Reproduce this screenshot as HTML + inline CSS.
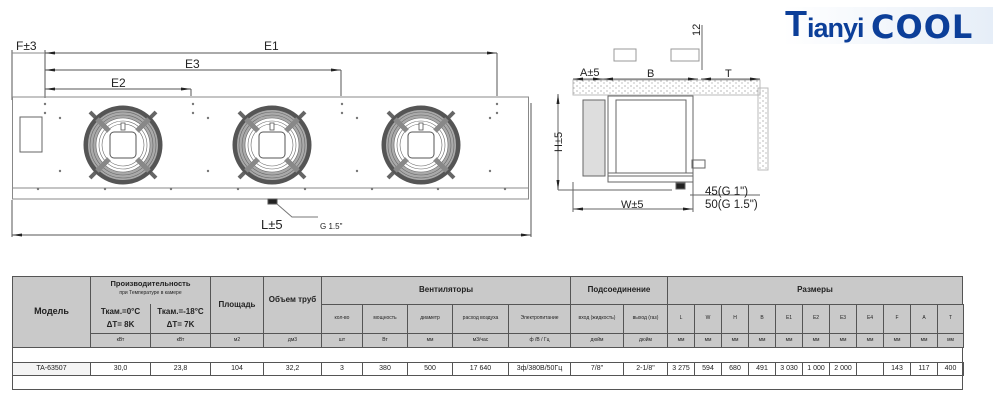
<!DOCTYPE html>
<html><head><meta charset="utf-8"><style>
body{margin:0;background:#fff;width:1000px;height:404px;overflow:hidden;position:relative;font-family:"Liberation Sans",sans-serif}
.c{position:absolute;box-sizing:border-box;border:1px solid #555;display:flex;align-items:center;justify-content:center;text-align:center;color:#222;line-height:1.1}
.h{background:#c9c9c9}
.b{font-weight:bold}
.logo{position:absolute;left:783px;top:7px;width:210px;height:37px;background:linear-gradient(90deg,#fff,#e6eef8);}
</style></head><body>
<svg width="1000" height="270" style="position:absolute;left:0;top:0" font-family="Liberation Sans, sans-serif">
<defs><marker id="a" markerWidth="10" markerHeight="6" refX="10" refY="3" orient="auto-start-reverse"><path d="M0,1.5L10,3L0,4.5z" fill="#222"/></marker>
<pattern id="dots" width="6" height="5" patternUnits="userSpaceOnUse"><circle cx="1" cy="1" r=".6" fill="#888"/><circle cx="4" cy="3" r=".6" fill="#999"/></pattern>
<g id="fan" fill="none" stroke="#666">
<path d="M-27,-27l-6,-6M27,-27l6,-6M-27,27l-6,6M27,27l6,6" stroke-width="4"/>
<circle r="37" stroke-width="5" stroke="#555"/>
<circle r="31" stroke-width="8" stroke="#aaa"/>
<circle r="33" stroke-width=".6"/><circle r="30" stroke-width=".6"/><circle r="27" stroke-width=".6"/><circle r="24" stroke-width=".6"/><circle r="21" stroke-width=".6"/>
<path d="M-14,-14L-26,-26M14,-14L26,-26M-14,14L-26,26M14,14L26,26" stroke-width="5" stroke="#888"/>
<rect x="-13" y="-13" width="26" height="26" rx="4" fill="#fff" stroke="#555"/>
<rect x="-2" y="-22" width="4" height="7" fill="#fff" stroke="#555" stroke-width=".8"/>
</g></defs>
<g stroke="#555" stroke-width="1" fill="none">
<line x1="12" y1="50" x2="12" y2="100"/>
<line x1="45" y1="50" x2="45" y2="98"/>
<line x1="12" y1="53" x2="45" y2="53" stroke="#888"/>
<line x1="45" y1="53" x2="497" y2="53" marker-end="url(#a)" marker-start="url(#a)"/>
<line x1="497" y1="53" x2="497" y2="96"/>
<line x1="45" y1="70" x2="341" y2="70" marker-end="url(#a)" marker-start="url(#a)"/>
<line x1="341" y1="70" x2="341" y2="96"/>
<line x1="45" y1="89" x2="191" y2="89" marker-end="url(#a)" marker-start="url(#a)"/>
<line x1="191" y1="89" x2="191" y2="96"/>
<line x1="12" y1="200" x2="12" y2="237"/>
<line x1="531" y1="103" x2="531" y2="237"/>
<line x1="12" y1="235" x2="531" y2="235" marker-end="url(#a)" marker-start="url(#a)"/>
<rect x="12.5" y="97" width="516" height="102" stroke="#888"/>
<line x1="12.5" y1="188" x2="528" y2="188" stroke="#888"/>
<rect x="20" y="117" width="22" height="35" stroke="#666"/>
<rect x="268" y="199" width="9" height="5" fill="#222"/>
<polyline points="277,204 292,217 318,217" stroke="#777"/>
</g>
<g fill="#777">
<circle cx="45" cy="104" r="1.2"/><circle cx="45" cy="113" r="1.2"/><circle cx="193" cy="104" r="1.2"/><circle cx="193" cy="113" r="1.2"/><circle cx="342" cy="104" r="1.2"/><circle cx="342" cy="113" r="1.2"/><circle cx="497" cy="104" r="1.2"/><circle cx="497" cy="113" r="1.2"/>
<circle cx="60" cy="118" r="1.2"/><circle cx="60" cy="171" r="1.2"/><circle cx="208" cy="118" r="1.2"/><circle cx="208" cy="171" r="1.2"/><circle cx="357" cy="118" r="1.2"/><circle cx="357" cy="171" r="1.2"/><circle cx="490" cy="118" r="1.2"/><circle cx="490" cy="171" r="1.2"/>
<circle cx="38" cy="189" r="1.2"/><circle cx="105" cy="189" r="1.2"/><circle cx="171" cy="189" r="1.2"/><circle cx="238" cy="189" r="1.2"/><circle cx="305" cy="189" r="1.2"/><circle cx="372" cy="189" r="1.2"/><circle cx="438" cy="189" r="1.2"/><circle cx="505" cy="189" r="1.2"/>
</g>
<use href="#fan" x="123" y="145"/><use href="#fan" x="272" y="145"/><use href="#fan" x="421" y="145"/>
<g fill="#222" font-size="12">
<text x="16" y="50">F±3</text><text x="264" y="50">E1</text><text x="185" y="68">E3</text><text x="111" y="87">E2</text><text x="261" y="229" font-size="13">L±5</text><text x="320" y="229" font-size="8">G 1.5"</text>
</g>
<g stroke="#666" fill="none">
<rect x="573" y="80" width="187" height="15" fill="url(#dots)" stroke="#bbb"/>
<rect x="758" y="88" width="10" height="82" fill="url(#dots)" stroke="#bbb"/>
<line x1="573" y1="79" x2="603" y2="79" marker-end="url(#a)" marker-start="url(#a)"/>
<line x1="603" y1="79" x2="698" y2="79" marker-end="url(#a)" marker-start="url(#a)"/>
<line x1="701" y1="79" x2="760" y2="79" marker-end="url(#a)" marker-start="url(#a)"/>
<line x1="702" y1="25" x2="702" y2="70"/>
<rect x="614" y="49" width="22" height="12" stroke="#999"/><rect x="671" y="49" width="28" height="12" stroke="#999"/>
<rect x="583" y="100" width="22" height="76" fill="#ddd"/>
<rect x="608" y="96" width="85" height="80"/>
<rect x="616" y="100" width="70" height="73"/>
<rect x="608" y="173" width="85" height="9"/>
<rect x="692" y="160" width="13" height="8"/>
<rect x="676" y="183" width="9" height="6" fill="#222"/>
<line x1="558" y1="94" x2="558" y2="190" marker-end="url(#a)" marker-start="url(#a)"/>
<line x1="558" y1="190" x2="672" y2="190"/>
<line x1="690" y1="195" x2="760" y2="195"/>
<line x1="573" y1="182" x2="573" y2="212"/><line x1="693" y1="182" x2="693" y2="212"/>
<line x1="573" y1="209" x2="693" y2="209" marker-end="url(#a)" marker-start="url(#a)"/>
</g>
<g fill="#222" font-size="11">
<text x="580" y="76">A±5</text><text x="647" y="77">B</text><text x="725" y="77">T</text>
<text x="0" y="0" transform="translate(700,36) rotate(-90)">12</text>
<text x="0" y="0" transform="translate(562,152) rotate(-90)">H±5</text>
<text x="705" y="195" font-size="11.5">45(G 1")</text><text x="705" y="208" font-size="11.5">50(G 1.5")</text>
<text x="621" y="208">W±5</text>
</g>
</svg>
<div class="logo"><span style="position:absolute;left:2px;top:-4px;font:bold 36px 'Liberation Sans',sans-serif;color:#0c3f99;letter-spacing:-1px">T</span><span style="position:absolute;left:24px;top:6px;font:bold 27px 'Liberation Sans',sans-serif;color:#0c3f99;letter-spacing:-1px">ianyi</span><span style="position:absolute;left:88px;top:1px;font:bold 32px 'DejaVu Sans',sans-serif;color:#0c3f99;letter-spacing:1px">COOL</span></div>

<div class="c" style="left:12px;top:276px;width:951px;height:114px;border:1.5px solid #555"></div>
<div class="c h b" style="left:12px;top:276px;width:79px;height:72px;font-size:9px">Модель</div>
<div class="c h" style="left:90px;top:276px;width:121px;height:58px;display:block;font-size:7px"><div class="b" style="font-size:7.5px;margin-top:3px">Производительность</div><div style="font-size:5px;margin-top:3px">при Температуре в камере</div></div>
<div class="c h b" style="left:90px;top:304px;width:61px;height:30px;font-size:8px;border-top:none;line-height:1.6">Ткам.=0°C<br>ΔT= 8K</div>
<div class="c h b" style="left:150px;top:304px;width:61px;height:30px;font-size:8px;border-top:none;line-height:1.6">Ткам.=-18°C<br>ΔT= 7K</div>
<div class="c h b" style="left:210px;top:276px;width:54px;height:58px;font-size:8px">Площадь</div>
<div class="c h b" style="left:263px;top:276px;width:59px;height:58px;font-size:8px;align-items:flex-start;padding-top:19px">Объем труб</div>
<div class="c h b" style="left:321px;top:276px;width:250px;height:29px;font-size:8px">Вентиляторы</div>
<div class="c h b" style="left:570px;top:276px;width:98px;height:29px;font-size:8px">Подсоединение</div>
<div class="c h b" style="left:667px;top:276px;width:296px;height:29px;font-size:8px">Размеры</div>
<div class="c h" style="left:321px;top:304px;width:42px;height:30px;font-size:5px">кол-во</div>
<div class="c h" style="left:362px;top:304px;width:46px;height:30px;font-size:5px">мощность</div>
<div class="c h" style="left:407px;top:304px;width:46px;height:30px;font-size:5px">диаметр</div>
<div class="c h" style="left:452px;top:304px;width:57px;height:30px;font-size:5px">расход воздуха</div>
<div class="c h" style="left:508px;top:304px;width:63px;height:30px;font-size:5px">Электропитание</div>
<div class="c h" style="left:570px;top:304px;width:54px;height:30px;font-size:5px">вход (жидкость)</div>
<div class="c h" style="left:623px;top:304px;width:45px;height:30px;font-size:5px">выход (газ)</div>
<div class="c h" style="left:90px;top:333px;width:61px;height:15px;font-size:5px">кВт</div>
<div class="c h" style="left:150px;top:333px;width:61px;height:15px;font-size:5px">кВт</div>
<div class="c h" style="left:210px;top:333px;width:54px;height:15px;font-size:5px">м2</div>
<div class="c h" style="left:263px;top:333px;width:59px;height:15px;font-size:5px">дм3</div>
<div class="c h" style="left:321px;top:333px;width:42px;height:15px;font-size:5px">шт</div>
<div class="c h" style="left:362px;top:333px;width:46px;height:15px;font-size:5px">Вт</div>
<div class="c h" style="left:407px;top:333px;width:46px;height:15px;font-size:5px">мм</div>
<div class="c h" style="left:452px;top:333px;width:57px;height:15px;font-size:5px">м3/час</div>
<div class="c h" style="left:508px;top:333px;width:63px;height:15px;font-size:5px">ф /В / Гц</div>
<div class="c h" style="left:570px;top:333px;width:54px;height:15px;font-size:5px">дюйм</div>
<div class="c h" style="left:623px;top:333px;width:45px;height:15px;font-size:5px">дюйм</div>

<div class="c" style="left:12px;top:362px;width:79px;height:14px;font-size:7px;background:#f4f4f4">TA-63507</div>
<div class="c" style="left:90px;top:362px;width:61px;height:14px;font-size:7px">30,0</div>
<div class="c" style="left:150px;top:362px;width:61px;height:14px;font-size:7px">23,8</div>
<div class="c" style="left:210px;top:362px;width:54px;height:14px;font-size:7px">104</div>
<div class="c" style="left:263px;top:362px;width:59px;height:14px;font-size:7px">32,2</div>
<div class="c" style="left:321px;top:362px;width:42px;height:14px;font-size:7px">3</div>
<div class="c" style="left:362px;top:362px;width:46px;height:14px;font-size:7px">380</div>
<div class="c" style="left:407px;top:362px;width:46px;height:14px;font-size:7px">500</div>
<div class="c" style="left:452px;top:362px;width:57px;height:14px;font-size:7px">17 640</div>
<div class="c" style="left:508px;top:362px;width:63px;height:14px;font-size:7px">3ф/380В/50Гц</div>
<div class="c" style="left:570px;top:362px;width:54px;height:14px;font-size:7px">7/8"</div>
<div class="c" style="left:623px;top:362px;width:45px;height:14px;font-size:7px">2-1/8"</div>

<div id="dims"></div>
<script>
var L=["L","W","H","B","E1","E2","E3","E4","F","A","T"],V=["3 275","594","680","491","3 030","1 000","2 000","","143","117","400"],h="";
for(var i=0;i<11;i++){var x=667+i*27,w=(i==10?27:28);
h+='<div class="c h" style="left:'+x+'px;top:304px;width:'+w+'px;height:30px;font-size:5px">'+L[i]+'</div>';
h+='<div class="c h" style="left:'+x+'px;top:333px;width:'+w+'px;height:15px;font-size:5px">мм</div>';
h+='<div class="c" style="left:'+x+'px;top:362px;width:'+w+'px;height:14px;font-size:7px">'+V[i]+'</div>';}
document.getElementById("dims").innerHTML=h;
</script>
</body></html>
